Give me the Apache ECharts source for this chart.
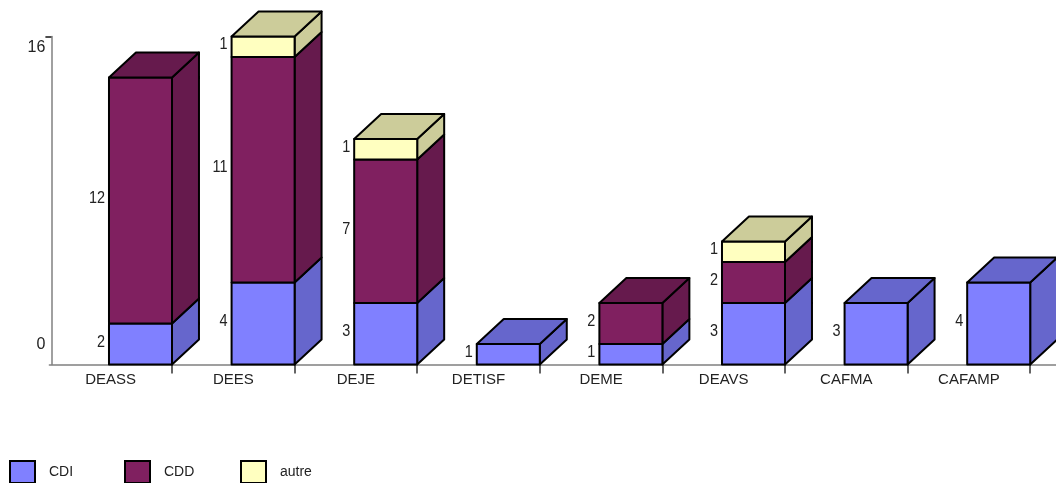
<!DOCTYPE html>
<html>
<head>
<meta charset="utf-8">
<style>html,body{margin:0;padding:0;background:#fff}#main{width:1056px;height:483px}</style>
<script src="https://cdn.jsdelivr.net/npm/echarts@6/dist/echarts.min.js"></script>
</head>
<body>
<div id="main"></div>
<script>
// last empty category only carries the x axis line out to the page edge
var categories = ['DEASS', 'DEES', 'DEJE', 'DETISF', 'DEME', 'DEAVS', 'CAFMA', 'CAFAMP', ''];
var cdi = [2, 4, 3, 1, 1, 3, 3, 4, 0];
var cdd = [12, 11, 7, 0, 2, 2, 0, 0, 0];
var autre = [0, 1, 1, 0, 0, 1, 0, 0, 0];
var yTicks = [0, 16];

var FONT = '"Liberation Sans", sans-serif';
var stacks = [
    {name: 'CDI', values: cdi, front: '#8080ff', shade: '#6666cc', legendLeft: 9},
    {name: 'CDD', values: cdd, front: '#802060', shade: '#661a4d', legendLeft: 124},
    {name: 'autre', values: autre, front: '#ffffc0', shade: '#cccc9a', legendLeft: 240}
];

function buildRows(idx) {
    var rows = [];
    categories.forEach(function (c, i) {
        var base = 0, above = 0;
        stacks.forEach(function (s, k) {
            if (k < idx) base += s.values[i];
            if (k > idx) above += s.values[i];
        });
        var v = stacks[idx].values[i];
        if (v > 0) rows.push([i, base, base + v, v, above > 0 ? 0 : 1]);
    });
    return rows;
}

function makeRender(stack) {
    return function (params, api) {
        var band = api.size([1, 0])[0];
        var low = api.coord([api.value(0), api.value(1)]);
        var high = api.coord([api.value(0), api.value(2)]);
        var right = low[0] + band / 2;
        var left = right - band * 0.514;
        var dx = band * 0.22, dy = 25;
        var line = {stroke: '#000', lineWidth: 2, lineJoin: 'round'};
        var kids = [{
            type: 'polygon',
            shape: {points: [[right, low[1]], [right + dx, low[1] - dy], [right + dx, high[1] - dy], [right, high[1]]]},
            style: Object.assign({fill: stack.shade}, line)
        }, {
            type: 'polygon',
            shape: {points: [[left, low[1]], [right, low[1]], [right, high[1]], [left, high[1]]]},
            style: Object.assign({fill: stack.front}, line)
        }];
        if (api.value(4)) {
            kids.push({
                type: 'polygon',
                shape: {points: [[left, high[1]], [left + dx, high[1] - dy], [right + dx, high[1] - dy], [right, high[1]]]},
                style: Object.assign({fill: stack.shade}, line)
            });
        }
        // original text is a narrow face, squeeze it a little
        kids.push({
            type: 'text',
            x: left - 4,
            y: (low[1] + high[1]) / 2 - 2,
            scaleX: 0.85,
            style: {
                x: 0, y: 0,
                text: String(api.value(3)),
                align: 'right', verticalAlign: 'middle',
                fill: '#222', font: '17px ' + FONT
            }
        });
        return {type: 'group', children: kids};
    };
}

var myChart = echarts.init(document.getElementById('main'));
var option = {
    animation: false,
    backgroundColor: '#fff',
    grid: [
        {left: 49.4, top: 36.5, width: 1103.4, height: 328, outerBoundsMode: 'none'},
        // the value labels sit apart from the ticks in the original
        {left: 49.4, top: 48, width: 100, height: 297, outerBoundsMode: 'none'}
    ],
    xAxis: [{
        type: 'category',
        data: categories,
        gridIndex: 0,
        axisLine: {lineStyle: {color: '#808080', width: 1.5}},
        axisTick: {
            show: true, length: 9, lineStyle: {color: '#333', width: 1.5},
            interval: function (i) { return i > 0; }
        },
        axisLabel: {color: '#222', fontFamily: FONT, fontSize: 15, margin: 8, interval: 0}
    }, {
        type: 'category', gridIndex: 1, show: false, data: categories
    }],
    yAxis: [{
        type: 'value', gridIndex: 0, min: 0, max: 16, interval: 16, offset: -2,
        axisLine: {show: true, lineStyle: {color: '#808080', width: 1.5}},
        axisTick: {show: true, customValues: [16], length: 6, lineStyle: {color: '#111', width: 1.5}},
        axisLabel: {show: false},
        splitLine: {show: false}
    }, {
        type: 'value', gridIndex: 1, min: yTicks[0], max: yTicks[1], interval: 16,
        axisLine: {show: false}, axisTick: {show: false}, splitLine: {show: false},
        axisLabel: {color: '#222', fontFamily: FONT, fontSize: 16, margin: 4}
    }],
    legend: stacks.map(function (s) {
        return {
            data: [s.name],
            left: s.legendLeft, top: 460, padding: 0,
            icon: 'rect', itemWidth: 25, itemHeight: 22,
            selectedMode: false,
            itemStyle: {color: s.front, borderColor: '#000', borderWidth: 2},
            textStyle: {color: '#222', fontFamily: FONT, fontSize: 14, padding: [0, 0, 7, 9]}
        };
    }),
    series: stacks.map(function (s, idx) {
        return {
            type: 'custom',
            name: s.name,
            xAxisIndex: 0,
            yAxisIndex: 0,
            clip: false,
            itemStyle: {color: s.front},
            encode: {x: 0, y: [1, 2]},
            data: buildRows(idx),
            renderItem: makeRender(s)
        };
    })
};
myChart.setOption(option);
</script>
</body>
</html>
